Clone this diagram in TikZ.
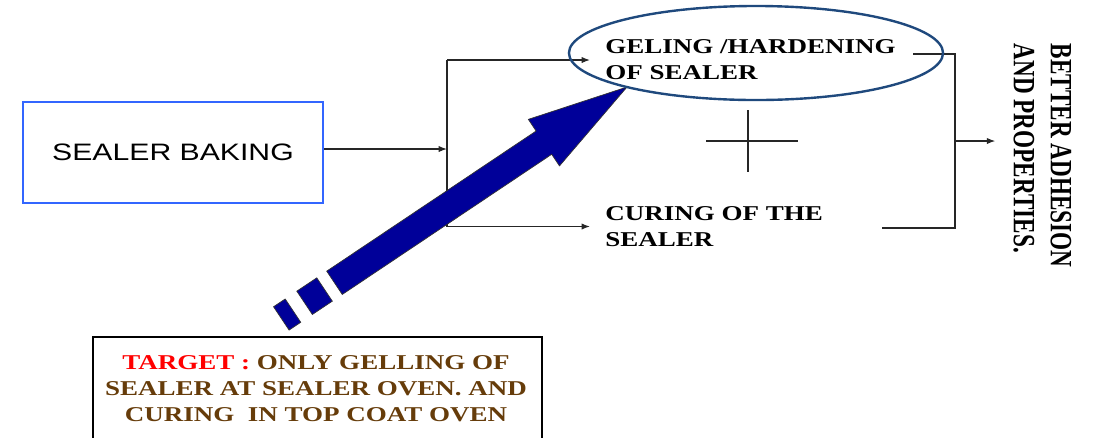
\documentclass[tikz,border=0pt]{standalone}
\usepackage{fontspec}
\newfontfamily\lblfont[FakeStretch=1.28]{Liberation Serif}
\newfontfamily\bakefont[FakeStretch=1.27]{Liberation Sans}
\newfontfamily\resfont[FakeStretch=0.75]{Liberation Serif}
\usetikzlibrary{arrows.meta,shapes.geometric,calc}
\definecolor{bakeblue}{RGB}{51,102,255}
\definecolor{ovalblue}{RGB}{31,73,125}
\definecolor{navy}{RGB}{0,0,153}
\definecolor{tgtbrown}{RGB}{102,60,10}
\tikzset{
  bakebox/.style={rectangle,draw=bakeblue,line width=2pt,minimum width=7.5cm,minimum height=2.525cm,inner sep=0pt,font=\bakefont\fontsize{16.9}{20}\selectfont},
  oval/.style={ellipse,draw=ovalblue,line width=1.7pt,minimum width=9.35cm,minimum height=2.35cm,inner sep=0pt},
  lbl/.style={inner sep=0pt,align=left,font=\lblfont\bfseries\fontsize{15}{18.5}\selectfont},
  res/.style={inner xsep=0pt,inner ysep=4.5mm,align=left,rotate=-90,font=\resfont\bfseries\fontsize{22}{26.3}\selectfont},
  tgtbox/.style={rectangle,draw=black,line width=2pt,minimum width=11.225cm,minimum height=3.15cm},
  ln/.style={draw=black!85,line width=.8pt},
  arr/.style={ln,-{Latex[length=6pt,width=4.5pt]}},
  blk/.style={fill=navy,draw=black!80,line width=.5pt,line join=miter},
}
\begin{document}
\begin{tikzpicture}[x=0.025cm,y=-0.025cm]
\useasboundingbox (0,0) rectangle (1099,437);
% baking splits into two effects
\node[bakebox] (bake) at (173,152.5) {SEALER BAKING};
\coordinate (jl) at (447,149);
\node[lbl,anchor=west] (geltxt) at (605,60) {GELING /HARDENING\\OF SEALER};
\node[lbl,anchor=west] (curtxt) at (605,226.5) {CURING OF THE\\SEALER};
\draw[arr] (bake.east |- jl) -- (jl);
\draw[ln] (jl |- geltxt.west) -- (jl |- curtxt.west);
\draw[arr] (jl |- geltxt.west) -- ([xshift=-3.75mm]geltxt.west);
\draw[arr] (jl |- curtxt.west) -- ([xshift=-3.75mm]curtxt.west);
% plus sign between the two
\coordinate (plus) at (748,141);
\draw[ln] (plus) ++(0,-31) -- ++(0,62) (plus) ++(-42,0) -- ++(92,0);
% both lead to the result
\coordinate (jr) at (955,141);
\coordinate (gelout) at (913,54);
\coordinate (curout) at (882,228);
\draw[ln] (gelout) -| (jr) |- (curout);
\node[res] (result) at (1042.5,155.5) {BETTER ADHESION\\AND PROPERTIES.};
\draw[arr] (jr) -- (jr -| result.south);
% target box and the block arrow pointing at the gelling step
\node[tgtbox] (tgtbox) at (317.5,400) {};
\node[lbl,align=center,text=tgtbrown] (tgt) at (316,389)
  {\textcolor{red}{TARGET :} ONLY GELLING OF\\SEALER AT SEALER OVEN. AND\\CURING\ \ IN TOP COAT OVEN};
\coordinate (tip) at (627,87);
\begin{scope}[shift={(tip)},rotate=33.8]
  \draw[blk] (0,0) -- (-100,28) -- (-100,14) -- (-352,14) -- (-352,-14)
    -- (-100,-14) -- (-100,-28) -- cycle;
  \draw[blk] (-364,14) rectangle (-388,-14);
  \draw[blk] (-402,14) rectangle (-416,-14);
\end{scope}
\node[oval] (gel) at (756,53) {};
\end{tikzpicture}
\end{document}
